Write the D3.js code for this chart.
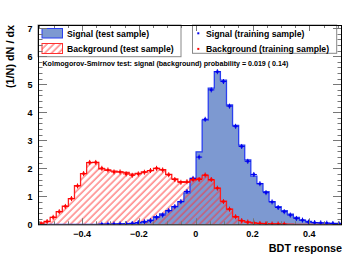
<!DOCTYPE html>
<html><head><meta charset="utf-8">
<script src="https://cdn.jsdelivr.net/npm/d3@7"></script>
<style>
html,body{margin:0;padding:0;background:#fff;}
svg{display:block;font-family:"Liberation Sans",Arial,Helvetica,sans-serif;font-weight:bold;}
</style></head>
<body>
<svg id="c" width="360" height="256"></svg>
<script>
// ---- data ----
const xRange = [-0.555, 0.515];
const nBins = 50;
const sigTest = [0,0,0,0,0,0,0,0,0,0,
  0.003,0.005,0.008,0.01,0.015,0.03,0.05,0.09,0.15,0.27,
  0.37,0.49,0.63,0.81,1.12,1.64,2.59,3.72,4.86,5.45,
  5.15,4.26,3.53,2.83,2.3,1.72,1.45,1.17,0.81,0.63,
  0.49,0.36,0.25,0.15,0.1,0.06,0.05,0.04,0.035,0.03];
const bkgTest = [0.05,0.1,0.25,0.45,0.65,0.92,1.38,1.81,2.2,2.21,
  1.98,1.93,1.9,1.87,1.85,1.79,1.82,1.87,1.92,2.0,
  1.95,1.78,1.62,1.52,1.5,1.58,1.64,1.75,1.58,1.29,
  0.83,0.54,0.27,0.13,0.08,0.05,0.03,0.02,0.015,0.01,
  0.005,0.005,0,0,0,0,0,0,0,0];
const sigTrain = [0,0,0,0,0,0,0,0,0,0,
  0.003,0.005,0.01,0.012,0.02,0.03,0.06,0.09,0.13,0.25,
  0.33,0.49,0.63,0.81,1.17,1.64,2.4,3.75,4.8,5.45,
  5.1,4.22,3.5,2.78,2.25,1.78,1.45,1.13,0.8,0.6,
  0.45,0.33,0.21,0.15,0.08,0.06,0.05,0.04,0.03,0.02];
const bkgTrain = [0.02,0.1,0.25,0.45,0.64,0.92,1.37,1.81,2.21,2.21,
  2.0,1.94,1.87,1.87,1.8,1.75,1.8,1.86,1.92,2.0,
  1.94,1.77,1.6,1.5,1.52,1.6,1.6,1.76,1.6,1.29,
  0.81,0.54,0.27,0.13,0.08,0.05,0.03,0.02,0.01,0.01,
  0.005,0,0,0,0,0,0,0,0,0];
const xTicks = [-0.4,-0.2,0,0.2,0.4];
const xTickLabels = ["\u22120.4","\u22120.2","0","0.2","0.4"];
const yTicks = [0,1,2,3,4,5,6,7];
const legendLeft = ["Signal (test sample)","Background (test sample)"];
const legendRight = ["Signal (training sample)","Background (training sample)"];
const ksText = "Kolmogorov-Smirnov test: signal (background) probability = 0.019 ( 0.14)";
const xTitle = "BDT response";
const yTitle = "(1/N) dN / dx";

// ---- layout ----
const L = 38, R = 342, T = 25, B = 224.3;
const svg = d3.select("#c");
const x = d3.scaleLinear().domain(xRange).range([L, R]);
const y = d3.scaleLinear().domain([0, (B - T) / 28]).range([B, T]);
const bw = (xRange[1] - xRange[0]) / nBins;
const edge = i => xRange[0] + i * bw;

const defs = svg.append("defs");
const pat = defs.append("pattern").attr("id","hatch").attr("patternUnits","userSpaceOnUse")
  .attr("width",4.8).attr("height",4.8).attr("patternTransform","rotate(-45)");
pat.append("line").attr("x1",0).attr("x2",4.8).attr("y1",2).attr("y2",2)
  .attr("stroke","#ff3030").attr("stroke-width",0.9);
defs.append("clipPath").attr("id","frameclip").append("rect")
  .attr("x",L).attr("y",T).attr("width",R-L).attr("height",B-T);

function stepPts(vals){
  const pts = [[x(edge(0)), y(0)]];
  vals.forEach((v,i)=>{ pts.push([x(edge(i)), y(v)]); pts.push([x(edge(i+1)), y(v)]); });
  pts.push([x(edge(vals.length)), y(0)]);
  return pts;
}
const line = d3.line();

const g = svg.append("g").attr("clip-path","url(#frameclip)");
g.append("path").attr("d", line(stepPts(sigTest)) + "Z").attr("fill","#7d99d1").attr("stroke","none");
g.append("path").attr("d", line(stepPts(bkgTest)) + "Z").attr("fill","url(#hatch)").attr("stroke","none");
g.append("path").attr("d", line(stepPts(sigTest))).attr("fill","none").attr("stroke","#2a3ff0").attr("stroke-width",1.3);
g.append("path").attr("d", line(stepPts(bkgTest))).attr("fill","none").attr("stroke","#ff2020").attr("stroke-width",1.3);

function drawPts(vals, col){
  vals.forEach((v,i)=>{
    if (v <= 0) return;
    const cx = x(edge(i) + bw/2), cy = y(v);
    const hw = (x(edge(i+1)) - x(edge(i))) / 2;
    g.append("line").attr("x1",cx-hw).attr("x2",cx+hw).attr("y1",cy).attr("y2",cy).attr("stroke",col).attr("stroke-width",1);
    g.append("line").attr("x1",cx).attr("x2",cx).attr("y1",cy-2.5).attr("y2",cy+2.5).attr("stroke",col).attr("stroke-width",1);
    g.append("rect").attr("x",cx-1.2).attr("y",cy-1.2).attr("width",2.4).attr("height",2.4).attr("fill",col);
  });
}
drawPts(sigTrain, "#0000ee");
drawPts(bkgTrain, "#ff0000");

// ---- axes ticks ----
const tk = svg.append("g").attr("stroke","#777").attr("stroke-width",1);
for (let v = 0; v <= 7.0001; v += 0.2) {
  const major = Math.abs(v - Math.round(v)) < 1e-6;
  const yy = Math.round(y(v)) + 0.5;
  const len = major ? 9 : 4.5;
  tk.append("line").attr("x1",L).attr("x2",L+len).attr("y1",yy).attr("y2",yy);
  tk.append("line").attr("x1",R).attr("x2",R-len).attr("y1",yy).attr("y2",yy);
}
const xt0 = Math.ceil(xRange[0]/0.05)*0.05;
for (let v = xt0; v <= xRange[1]+1e-9; v += 0.05) {
  const major = Math.abs(v/0.2 - Math.round(v/0.2)) < 1e-6;
  const xx = Math.round(x(v)) + 0.5;
  const len = major ? 6 : 3;
  tk.append("line").attr("x1",xx).attr("x2",xx).attr("y1",B).attr("y2",B-len);
}

// ---- legends ----
const lg = svg.append("g");
lg.append("rect").attr("x",L).attr("y",T).attr("width",181-L).attr("height",56.7-T)
  .attr("fill","#fff").attr("stroke","#888").attr("stroke-width",1);
lg.append("rect").attr("x",192.5).attr("y",T).attr("width",336.7-192.5).attr("height",53.3-T)
  .attr("fill","#fff").attr("stroke","#888").attr("stroke-width",1);
lg.append("rect").attr("x",42).attr("y",28.5).attr("width",20.5).attr("height",9.5)
  .attr("fill","#7d99d1").attr("stroke","#2a3ff0").attr("stroke-width",1);
lg.append("rect").attr("x",42).attr("y",43.5).attr("width",20.5).attr("height",10)
  .attr("fill","url(#hatch)").attr("stroke","#ff3030").attr("stroke-width",1);
lg.selectAll("text.ll").data(legendLeft).join("text").attr("class","ll")
  .attr("x",67).attr("y",(d,i)=>36.7+i*15.6).attr("font-size",8.7).attr("fill","#000").text(d=>d);
lg.selectAll("rect.lm").data(["#0000ee","#ff0000"]).join("rect").attr("class","lm")
  .attr("x",197.3).attr("y",(d,i)=>32.3+i*15.6).attr("width",2).attr("height",2).attr("fill",d=>d);
lg.selectAll("text.lr").data(legendRight).join("text").attr("class","lr")
  .attr("x",206).attr("y",(d,i)=>36.7+i*15.6).attr("font-size",8.7).attr("fill","#000").text(d=>d);

svg.append("text").attr("x",42.5).attr("y",65.5).attr("font-size",7.1).attr("fill","#000").text(ksText);

for (let v = xt0; v <= xRange[1]+1e-9; v += 0.05) {
  const major = Math.abs(v/0.2 - Math.round(v/0.2)) < 1e-6;
  const xx = Math.round(x(v)) + 0.5;
  const len = major ? 6 : 3;
  tk.append("line").attr("x1",xx).attr("x2",xx).attr("y1",T).attr("y2",T+len);
}
svg.node().appendChild(tk.node());

svg.append("rect").attr("x",L+0.5).attr("y",T+0.5).attr("width",R-L-1).attr("height",B-T)
  .attr("fill","none").attr("stroke","#000").attr("stroke-width",1);

svg.selectAll("text.xl").data(xTicks).join("text").attr("class","xl")
  .attr("x",d=>x(d)).attr("y",236.5).attr("text-anchor","middle").attr("font-size",9).text((d,i)=>xTickLabels[i]);
svg.selectAll("text.yl").data(yTicks).join("text").attr("class","yl")
  .attr("x",32.5).attr("y",d=>y(d)+3.3).attr("text-anchor","end").attr("font-size",9).text(d=>d);

svg.append("text").attr("x",342).attr("y",251.5).attr("text-anchor","end").attr("font-size",10.8).text(xTitle);
svg.append("text").attr("transform","translate(14,25) rotate(-90)").attr("text-anchor","end").attr("font-size",10.8).text(yTitle);
</script>
</body></html>
